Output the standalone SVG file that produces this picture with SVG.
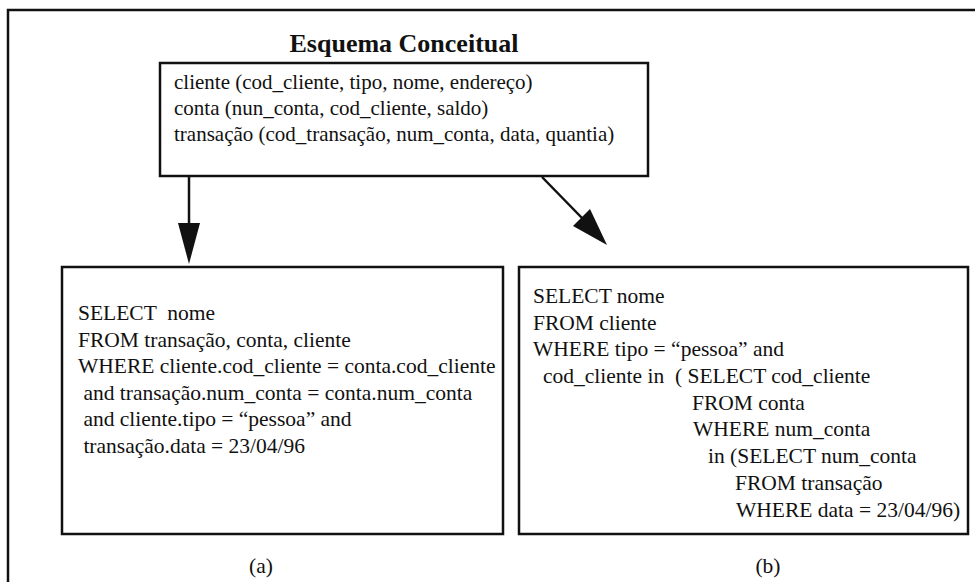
<svg xmlns="http://www.w3.org/2000/svg" width="975" height="582" viewBox="0 0 975 582">
<style>
.box{fill:#fff;stroke:#111;stroke-width:2.5}
.t{font-family:"Liberation Serif","Times New Roman",serif;font-size:21.5px;fill:#111}
.s{font-family:"Liberation Serif","Times New Roman",serif;font-size:21px;fill:#111}
.title{font-family:"Liberation Serif","Times New Roman",serif;font-size:26px;font-weight:bold;fill:#111}
.conn{stroke:#111;stroke-width:2.5;fill:none}
.head{fill:#111}
</style>
<rect x="0" y="0" width="975" height="582" fill="#fff"/>
<g id="frame">
<path d="M8,590 L8,10 L980,10" fill="none" stroke="#111" stroke-width="2.5"/>
</g>
<g id="title">
<text class="title" x="404" y="52" text-anchor="middle">Esquema Conceitual</text>
</g>
<g id="schema">
<rect class="box" x="160" y="63" width="488" height="113"/>
<text class="s" x="174" y="89">cliente (cod_cliente, tipo, nome, endereço)</text>
<text class="s" x="174" y="115">conta (nun_conta, cod_cliente, saldo)</text>
<text class="s" x="174" y="141">transação (cod_transação, num_conta, data, quantia)</text>
</g>
<g id="connectors">
<line class="conn" x1="189" y1="176" x2="189" y2="224"/>
<path class="head" d="M178,223 L200,223 L189,264 z"/>
<line class="conn" x1="542" y1="177" x2="582" y2="218"/>
<path class="head" d="M573,226 L590,209 L607,245 z"/>
</g>
<g id="query-a">
<rect class="box" x="62" y="267" width="441" height="267"/>
<text class="t" x="78" y="320" xml:space="preserve">SELECT  nome</text>
<text class="t" x="78" y="347">FROM transação, conta, cliente</text>
<text class="t" x="78" y="373">WHERE cliente.cod_cliente = conta.cod_cliente</text>
<text class="t" x="78" y="400" xml:space="preserve"> and transação.num_conta = conta.num_conta</text>
<text class="t" x="78" y="426" xml:space="preserve"> and cliente.tipo = “pessoa” and</text>
<text class="t" x="78" y="453" xml:space="preserve"> transação.data = 23/04/96</text>
</g>
<g id="query-b">
<rect class="box" x="519" y="267" width="449" height="267"/>
<text class="t" x="533" y="303">SELECT nome</text>
<text class="t" x="533" y="330">FROM cliente</text>
<text class="t" x="533" y="356">WHERE tipo = “pessoa” and</text>
<text class="t" x="543" y="383" xml:space="preserve">cod_cliente in  ( SELECT cod_cliente</text>
<text class="t" x="692" y="410">FROM conta</text>
<text class="t" x="693" y="436">WHERE num_conta</text>
<text class="t" x="708" y="463">in (SELECT num_conta</text>
<text class="t" x="735" y="490">FROM transação</text>
<text class="t" x="736" y="517">WHERE data = 23/04/96)</text>
</g>
<g id="labels">
<text class="t" x="261" y="573" text-anchor="middle">(a)</text>
<text class="t" x="768" y="573" text-anchor="middle">(b)</text>
</g>
</svg>
